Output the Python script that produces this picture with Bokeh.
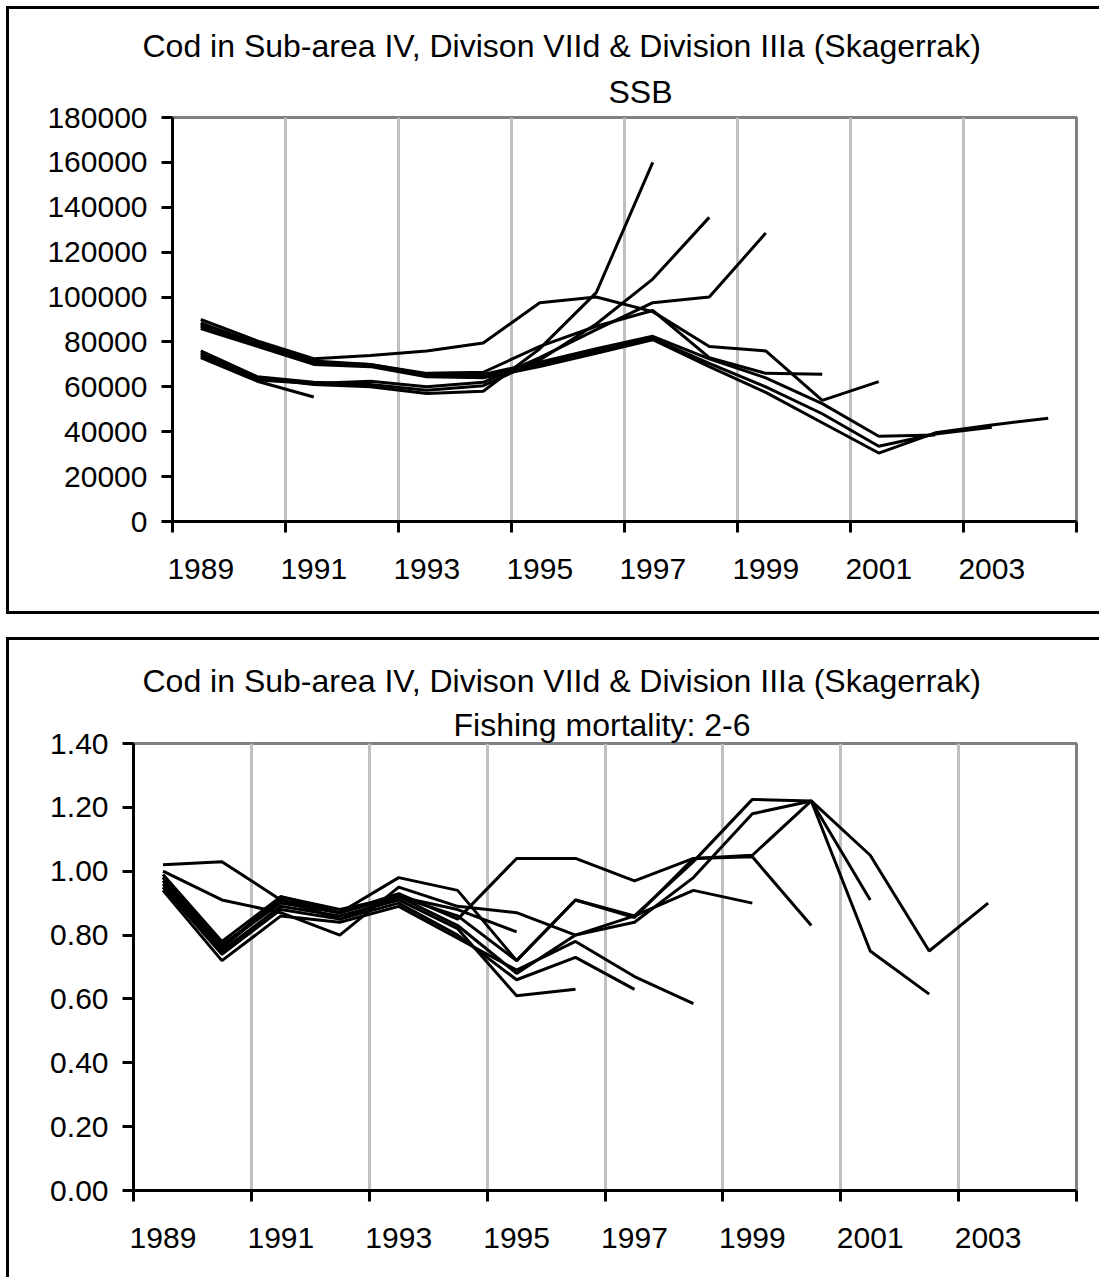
from bokeh.plotting import figure
from bokeh.layouts import column
from bokeh.models import Range1d, FixedTicker, NumeralTickFormatter, Title
from bokeh.embed import file_html
from bokeh.resources import INLINE

# ---------------------------------------------------------------- data
YEARS = list(range(1989, 2005))
YEAR_LABELS = [1989, 1991, 1993, 1995, 1997, 1999, 2001, 2003]

MAIN_TITLE = "Cod in Sub-area IV, Divison VIId & Division IIIa (Skagerrak)"
SSB_TITLE = "SSB"
F_TITLE = "Fishing mortality: 2-6"

SSB_TICKS = [0, 20000, 40000, 60000, 80000, 100000, 120000, 140000, 160000, 180000]
F_TICKS = [0.0, 0.2, 0.4, 0.6, 0.8, 1.0, 1.2, 1.4]

# Spawning stock biomass (t), one series per assessment, starting 1989
ssb_1991 = [73000, 62500, 55500]
ssb_1997 = [75000, 64000, 61000, 60000, 57000, 58000, 77000, 102000, 160000]
ssb_1998 = [76000, 64500, 62000, 61000, 58500, 60500, 72000, 88000, 108000, 135500]
ssb_1999 = [74000, 63000, 61500, 62500, 60000, 62000, 73000, 85500, 97500, 100000, 128500]
ssb_2000 = [88000, 79500, 71000, 70000, 66000, 66500, 78000, 87000, 94000, 73000, 66000, 65600]
ssb_2001 = [90000, 80500, 72500, 74000, 76000, 79500, 97500, 100000, 93500, 78000, 76000,
            54000, 62300]
ssb_2002 = [88500, 79000, 71500, 70000, 65500, 65500, 71000, 77000, 82500, 72500, 64000,
            52500, 38000, 38500]
ssb_2003 = [87000, 78500, 70500, 69500, 65000, 64500, 70000, 76000, 81500, 70500, 60000,
            48000, 33500, 39000, 42000]
ssb_2004 = [86000, 78000, 70000, 69000, 64500, 64000, 69000, 75000, 81000, 69000, 57500,
            44000, 30500, 39500, 43000, 46000]

# Mean fishing mortality, ages 2-6, one series per assessment, starting 1989
f_1995 = [0.98, 0.77, 0.90, 0.87, 0.92, 0.88, 0.81]
f_1996 = [0.96, 0.75, 0.89, 0.86, 0.91, 0.82, 0.61, 0.63]
f_1997 = [0.95, 0.74, 0.88, 0.85, 0.90, 0.80, 0.66, 0.73, 0.63]
f_1998 = [0.94, 0.72, 0.86, 0.84, 0.89, 0.79, 0.69, 0.78, 0.67, 0.585]
f_1999 = [0.97, 0.76, 0.91, 0.85, 0.92, 0.83, 0.68, 0.80, 0.86, 0.94, 0.90]
f_2000 = [1.02, 1.03, 0.91, 0.87, 0.93, 0.85, 1.04, 1.04, 0.97, 1.04, 1.045, 0.83]
f_2001 = [0.99, 0.78, 0.92, 0.88, 0.92, 0.86, 0.72, 0.91, 0.86, 1.03, 1.225, 1.22, 0.91]
f_2002 = [1.00, 0.91, 0.87, 0.80, 0.95, 0.89, 0.87, 0.80, 0.84, 0.98, 1.18, 1.22, 0.75, 0.615]
f_2003 = [0.98, 0.76, 0.92, 0.87, 0.98, 0.94, 0.72, 0.91, 0.855, 1.04, 1.05, 1.22, 1.05,
          0.75, 0.90]

SSB_SERIES = [ssb_1991, ssb_1997, ssb_1998, ssb_1999, ssb_2000, ssb_2001, ssb_2002,
              ssb_2003, ssb_2004]
F_SERIES = [f_1995, f_1996, f_1997, f_1998, f_1999, f_2000, f_2001, f_2002, f_2003]

# ---------------------------------------------------------------- style
FONT = "Liberation Sans"
WIDTH = 1099
BLACK_BAR = "linear-gradient(#000,#000)"


def frame_css(top, bottom=None):
    """Black chart-area border drawn behind the (transparent) canvas."""
    parts = [f"{BLACK_BAR} 6px {top}px / 3px 100% no-repeat",
             f"{BLACK_BAR} 6px {top}px / 100% 3px no-repeat"]
    if bottom is not None:
        parts[0] = f"{BLACK_BAR} 6px {top}px / 3px {bottom - top + 3}px no-repeat"
        parts.append(f"{BLACK_BAR} 6px {bottom}px / 100% 3px no-repeat")
    return {"background": ", ".join(parts)}


def make_panel(series, y_max, y_ticks, y_format, height, left, top, bottom,
               main_offset, main_standoff, sub_text, sub_offset, sub_standoff, css):
    p = figure(width=WIDTH, height=height, title=None,
               x_range=Range1d(1988.5, 2004.5), y_range=Range1d(0, y_max),
               output_backend="svg", toolbar_location=None,
               min_border_left=left, min_border_right=WIDTH - 1076,
               min_border_top=top, min_border_bottom=bottom,
               background_fill_color="white", border_fill_color=None,
               outline_line_color="#808080", outline_line_width=3,
               frame_align=False, styles=css)

    # category axis: labels centred on years, tick marks between categories
    xa = p.xaxis[0]
    xa.ticker = FixedTicker(ticks=YEAR_LABELS,
                            minor_ticks=[1988.5 + 2 * k for k in range(9)])
    xa.formatter = NumeralTickFormatter(format="0")
    xa.major_tick_out = 0
    xa.major_tick_in = 0
    xa.minor_tick_out = 11
    xa.minor_tick_in = 0
    xa.minor_tick_line_width = 3
    xa.minor_tick_line_color = "black"
    xa.axis_line_width = 3
    xa.axis_line_color = "black"
    xa.major_label_text_font = FONT
    xa.major_label_text_font_size = "30px"
    xa.major_label_text_color = "black"
    xa.major_label_standoff = 26

    ya = p.yaxis[0]
    ya.ticker = FixedTicker(ticks=y_ticks)
    ya.formatter = NumeralTickFormatter(format=y_format)
    ya.major_tick_out = 11
    ya.major_tick_in = 0
    ya.major_tick_line_width = 3
    ya.major_tick_line_color = "black"
    ya.minor_tick_out = 0
    ya.minor_tick_in = 0
    ya.axis_line_width = 3
    ya.axis_line_color = "black"
    ya.major_label_text_font = FONT
    ya.major_label_text_font_size = "30px"
    ya.major_label_text_color = "black"
    ya.major_label_standoff = 14

    p.xgrid.ticker = FixedTicker(ticks=[1990.5 + 2 * k for k in range(7)])
    p.xgrid.grid_line_color = "#C0C0C0"
    p.xgrid.grid_line_width = 3
    p.ygrid.visible = False

    for s in series:
        p.line(YEARS[:len(s)], s, line_color="black", line_width=3)

    # two-line heading: subtitle next to the plot, main title above it
    p.add_layout(Title(text=sub_text, align="left", offset=sub_offset,
                       standoff=sub_standoff, text_font=FONT,
                       text_font_size="32px", text_font_style="normal",
                       text_color="black"), "above")
    p.add_layout(Title(text=MAIN_TITLE, align="left", offset=main_offset,
                       standoff=main_standoff, text_font=FONT,
                       text_font_size="32px", text_font_style="normal",
                       text_color="black"), "above")
    return p


top = make_panel(SSB_SERIES, 180000, SSB_TICKS, "0", 625,
                 left=172, top=117, bottom=625 - 521,
                 main_offset=-30, main_standoff=0,
                 sub_text=SSB_TITLE, sub_offset=436, sub_standoff=16,
                 css=frame_css(6, 611))

bottom = make_panel(F_SERIES, 1.4, F_TICKS, "0.00", 652,
                    left=133, top=743 - 625, bottom=625 + 652 - 1190,
                    main_offset=9, main_standoff=9,
                    sub_text=F_TITLE, sub_offset=320, sub_standoff=2,
                    css=frame_css(12))

layout = column(top, bottom, spacing=0)

with open("out.html", "w") as fh:
    fh.write(file_html(layout, INLINE))
